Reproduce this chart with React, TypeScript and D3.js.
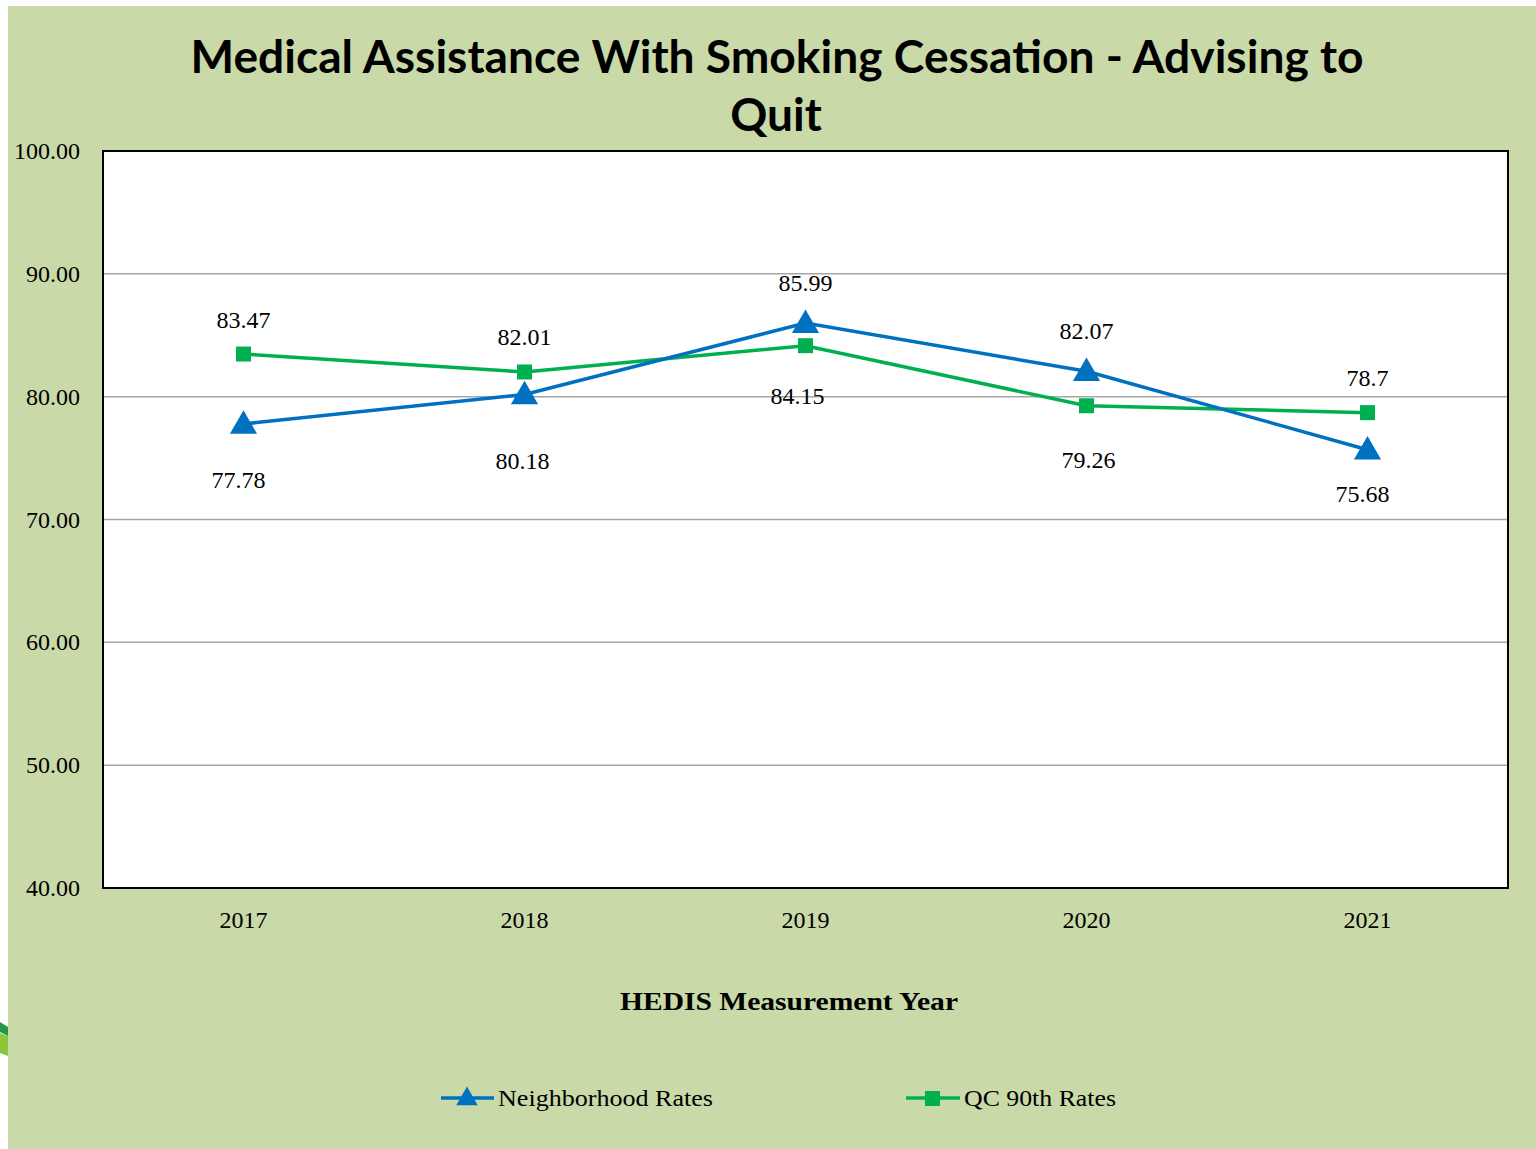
import React from "react";
import * as d3 from "d3";

const years = ["2017", "2018", "2019", "2020", "2021"];
const neighborhoodRates = [77.78, 80.18, 85.99, 82.07, 75.68];
const qc90Rates = [83.47, 82.01, 84.15, 79.26, 78.7];
const neighborhoodLabels = ["77.78", "80.18", "85.99", "82.07", "75.68"];
const qc90Labels = ["83.47", "82.01", "84.15", "79.26", "78.7"];
const yTicks = [40, 50, 60, 70, 80, 90, 100];

// label placement (layout, not data)
const blueLabelDy = [56, 67, -40, -40, 44];
const blueLabelDx = [-5, -2, 0, 0, -5];
const greenLabelDy = [-34, -35, 50, 54, -35];
const greenLabelDx = [0, 0, -8, 2, 0];

const W = 1536;
const H = 1149;
const plot = { left: 103, right: 1508, top: 151, bottom: 888 };
const BLUE = "#0070C0";
const GREEN = "#00B050";
const BG = "#C9D9A8";
const SERIF = "'Liberation Serif', 'Times New Roman', serif";
const TITLE_FONT = "Lato, 'Open Sans', sans-serif";

export default function App() {
  const x = d3
    .scaleBand<string>()
    .domain(years)
    .range([plot.left, plot.right])
    .padding(0);
  const cx = (y: string) => (x(y) as number) + x.bandwidth() / 2;
  const y = d3.scaleLinear().domain([40, 100]).range([plot.bottom, plot.top]);

  const line = d3
    .line<number>()
    .x((_, i) => cx(years[i]))
    .y((d) => y(d));

  const tri = d3.symbol().type(d3.symbolTriangle).size(320)();
  const triSmall = d3.symbol().type(d3.symbolTriangle).size(200)();

  return (
    <svg
      width={W}
      height={H}
      style={{ position: "absolute", left: 0, top: 0, display: "block" }}
    >
      <rect x={0} y={0} width={W} height={H} fill="#ffffff" />
      {/* swoosh fragment at left edge */}
      <path d="M0,1022 L8,1027 L8,1036 L0,1032 Z" fill="#1E9A48" />
      <path d="M0,1033 L8,1036 L8,1056 L0,1053 Z" fill="#8CC63F" />
      <rect x={8} y={6} width={W - 8} height={H - 6} fill={BG} />

      <text
        x={777}
        y={73}
        textAnchor="middle"
        fontFamily={TITLE_FONT}
        fontWeight="bold"
        fontSize={46}
        fill="#000"
        textLength={1173}
        lengthAdjust="spacingAndGlyphs"
      >
        Medical Assistance With Smoking Cessation - Advising to
      </text>
      <text
        x={776}
        y={131}
        textAnchor="middle"
        fontFamily={TITLE_FONT}
        fontWeight="bold"
        fontSize={46}
        fill="#000"
      >
        Quit
      </text>

      <rect
        x={plot.left}
        y={plot.top}
        width={plot.right - plot.left}
        height={plot.bottom - plot.top}
        fill="#ffffff"
      />
      {yTicks
        .filter((t) => t !== 40 && t !== 100)
        .map((t) => (
          <line
            key={t}
            x1={plot.left}
            x2={plot.right}
            y1={y(t)}
            y2={y(t)}
            stroke="#A6A6A6"
            strokeWidth={1.5}
          />
        ))}
      <rect
        x={plot.left}
        y={plot.top}
        width={plot.right - plot.left}
        height={plot.bottom - plot.top}
        fill="none"
        stroke="#000"
        strokeWidth={2}
      />

      {yTicks.map((t) => (
        <text
          key={t}
          x={80}
          y={y(t) + 8}
          textAnchor="end"
          fontFamily={SERIF}
          fontSize={24}
          fill="#000"
        >
          {t.toFixed(2)}
        </text>
      ))}
      {years.map((yr) => (
        <text
          key={yr}
          x={cx(yr)}
          y={928}
          textAnchor="middle"
          fontFamily={SERIF}
          fontSize={24}
          fill="#000"
        >
          {yr}
        </text>
      ))}

      <path d={line(qc90Rates) || ""} fill="none" stroke={GREEN} strokeWidth={3.5} />
      <path d={line(neighborhoodRates) || ""} fill="none" stroke={BLUE} strokeWidth={3.5} />

      {qc90Rates.map((v, i) => (
        <rect
          key={"g" + i}
          x={cx(years[i]) - 7.5}
          y={y(v) - 7.5}
          width={15}
          height={15}
          fill={GREEN}
        />
      ))}
      {neighborhoodRates.map((v, i) => (
        <path
          key={"b" + i}
          d={tri || ""}
          transform={`translate(${cx(years[i])},${y(v) + 2})`}
          fill={BLUE}
        />
      ))}

      {qc90Rates.map((v, i) => (
        <text
          key={"gl" + i}
          x={cx(years[i]) + greenLabelDx[i]}
          y={y(v) + greenLabelDy[i] + 8}
          textAnchor="middle"
          fontFamily={SERIF}
          fontSize={24}
          fill="#000"
        >
          {qc90Labels[i]}
        </text>
      ))}
      {neighborhoodRates.map((v, i) => (
        <text
          key={"bl" + i}
          x={cx(years[i]) + blueLabelDx[i]}
          y={y(v) + blueLabelDy[i] + 8}
          textAnchor="middle"
          fontFamily={SERIF}
          fontSize={24}
          fill="#000"
        >
          {neighborhoodLabels[i]}
        </text>
      ))}

      <text
        x={789}
        y={1010}
        textAnchor="middle"
        fontFamily={SERIF}
        fontWeight="bold"
        fontSize={26}
        fill="#000"
        textLength={338}
        lengthAdjust="spacingAndGlyphs"
      >
        HEDIS Measurement Year
      </text>

      {/* legend */}
      <line x1={441} x2={494} y1={1098} y2={1098} stroke={BLUE} strokeWidth={3.5} />
      <path d={triSmall || ""} transform="translate(467,1099)" fill={BLUE} />
      <text
        x={498}
        y={1106}
        fontFamily={SERIF}
        fontSize={24}
        fill="#000"
        textLength={215}
        lengthAdjust="spacingAndGlyphs"
      >
        Neighborhood Rates
      </text>
      <line x1={906} x2={960} y1={1098} y2={1098} stroke={GREEN} strokeWidth={3.5} />
      <rect x={925} y={1091} width={15} height={15} fill={GREEN} />
      <text
        x={964}
        y={1106}
        fontFamily={SERIF}
        fontSize={24}
        fill="#000"
        textLength={152}
        lengthAdjust="spacingAndGlyphs"
      >
        QC 90th Rates
      </text>
    </svg>
  );
}
